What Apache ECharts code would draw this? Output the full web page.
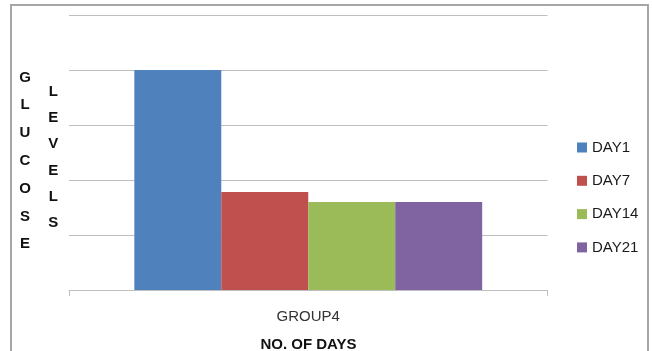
<!DOCTYPE html>
<html>
<head>
<meta charset="utf-8">
<script src="https://cdn.jsdelivr.net/npm/echarts@6/dist/echarts.min.js"></script>
<style>html,body{margin:0;padding:0;background:#fff}#c{width:652px;height:351px}</style>
</head>
<body>
<div id="c"></div>
<script>
var categories = ['GROUP4'];
var seriesNames = ['DAY1', 'DAY7', 'DAY14', 'DAY21'];
var seriesValues = [[200], [89], [80], [80]];
var seriesColors = ['#4F81BD', '#C0504D', '#9BBB59', '#8064A2'];
var yTitle1 = 'GLUCOSE';
var yTitle2 = 'LEVELS';
var xTitle = 'NO. OF DAYS';

var chart = echarts.init(document.getElementById('c'), null, {renderer: 'canvas'});
var font = '"Liberation Sans", Arial, sans-serif';
var series = seriesNames.map(function (n, i) {
  return {
    name: n, type: 'bar', data: seriesValues[i],
    itemStyle: {color: seriesColors[i]},
    barGap: '0%', barCategoryGap: '27.3%'
  };
});
chart.setOption({
  backgroundColor: '#fff',
  animation: false,
  textStyle: {fontFamily: font},
  grid: {left: 69, right: 104.5, top: 15, bottom: 61},
  legend: {
    orient: 'vertical', left: 577, top: 140, padding: 0,
    icon: 'rect', itemWidth: 10, itemHeight: 10, itemGap: 18.3,
    textStyle: {fontSize: 15, color: '#1a1a1a', fontFamily: font, lineHeight: 15},
    data: seriesNames
  },
  xAxis: {
    type: 'category', data: categories,
    axisLine: {lineStyle: {color: '#BFBFBF', width: 1}},
    axisTick: {show: true, length: 6, lineStyle: {color: '#BFBFBF'}},
    axisLabel: {fontSize: 15, color: '#333', margin: 19, fontFamily: font}
  },
  yAxis: {
    type: 'value', min: 0, max: 250, interval: 50,
    axisLine: {show: false}, axisTick: {show: false},
    axisLabel: {show: false},
    splitLine: {lineStyle: {color: '#BFBFBF', width: 1}}
  },
  graphic: [
    {type: 'rect', shape: {x: 11, y: 5, width: 637, height: 360},
     style: {fill: 'none', stroke: '#A6A6A6', lineWidth: 2}, silent: true},
    {type: 'text', x: 25, y: 63.5,
     style: {text: yTitle1.split('').join('\n'), font: 'bold 15px ' + font, fill: '#111',
             textAlign: 'center', lineHeight: 27.8}},
    {type: 'text', x: 53.3, y: 78.5,
     style: {text: yTitle2.split('').join('\n'), font: 'bold 15px ' + font, fill: '#111',
             textAlign: 'center', lineHeight: 26.3}},
    {type: 'text', x: 308.5, y: 344.5,
     style: {text: xTitle, font: 'bold 15px ' + font, fill: '#111',
             textAlign: 'center', textVerticalAlign: 'middle'}}
  ],
  series: series
});
</script>
</body>
</html>
